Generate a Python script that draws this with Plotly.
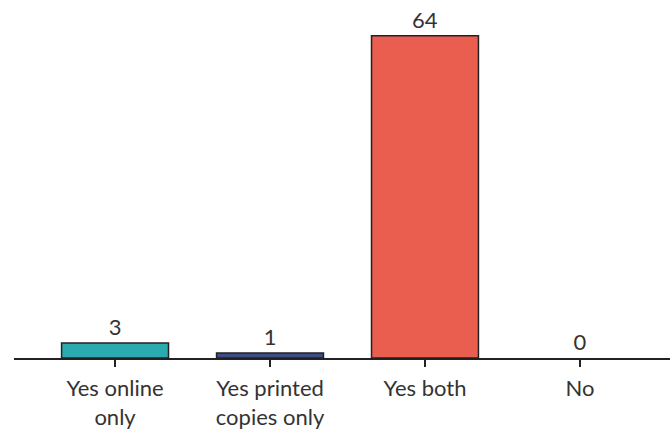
import plotly.graph_objects as go

categories = ["Yes online<br>only", "Yes printed<br>copies only", "Yes both", "No"]
values = [3, 1, 64, 0]
colors = ["#2BAAAF", "#3D4E86", "#EA5E4F", "#EA5E4F"]

# no outline on the empty bar so nothing shows along the baseline
outline_widths = [1.5 if v > 0 else 0 for v in values]

fig = go.Figure(
    go.Bar(
        x=list(range(len(categories))),
        y=values,
        width=0.69,
        marker=dict(color=colors, line=dict(color="#222222", width=outline_widths)),
        text=[str(v) for v in values],
        textposition="outside",
        textfont=dict(family="Lato", size=22, color="#333333"),
        cliponaxis=False,
    )
)

fig.update_layout(
    width=670,
    height=430,
    margin=dict(l=14, r=0, t=0, b=70),
    plot_bgcolor="white",
    paper_bgcolor="white",
    showlegend=False,
    uniformtext=dict(minsize=22, mode="show"),
    font=dict(family="Lato", size=22, color="#333333"),
)
fig.update_xaxes(
    range=[-0.652, 3.581],
    tickmode="array",
    tickvals=list(range(len(categories))),
    ticktext=categories,
    showline=True,
    linecolor="#222222",
    linewidth=2,
    ticks="outside",
    ticklen=7,
    tickwidth=2,
    tickcolor="#222222",
    ticklabelstandoff=3,
    showgrid=False,
    zeroline=False,
    tickfont=dict(family="Lato", size=22, color="#333333"),
)
fig.update_yaxes(range=[0, 71.1], visible=False, showgrid=False, zeroline=False)

fig.write_html("out.html")
